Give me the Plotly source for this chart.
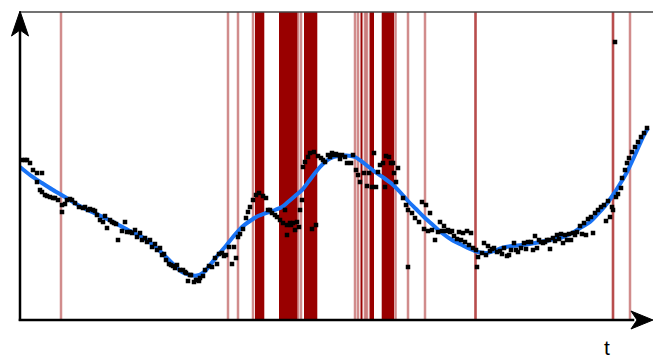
import plotly.graph_objects as go

# ---- data (t = time, v = signal value) ----
curve_t = [0, 10, 22, 33, 45, 58, 72, 85, 95, 108, 122, 132, 142, 152, 162, 170, 177, 184, 190, 198,
           205, 213, 222, 230, 238, 246, 255, 262, 268, 275, 282, 289, 295, 300, 305, 311, 318, 326, 335, 345,
           355, 364, 372, 380, 388, 396, 405, 414, 422, 432, 442, 450, 458, 466, 474, 482, 492, 502, 515, 530,
           543, 552, 560, 570, 577, 585, 593, 600, 607, 615, 623, 628]
curve_v = [153, 145, 137, 130, 123, 115, 108, 102, 97, 90, 83, 76, 67, 57, 48, 45, 44.5, 48, 55, 65,
           73, 83, 93, 99, 104, 107, 110, 113, 118, 124, 130, 139, 147, 153, 158, 162, 164, 164.5, 163, 156,
           148, 142, 136, 128, 119, 111, 102, 94, 87, 80, 75, 71, 68, 67, 69, 72, 74, 75, 77, 80,
           83, 87, 92, 98, 105, 114, 125, 136, 148, 165, 183, 192]

obs_t = [2, 5, 10, 13, 17, 22, 17, 20, 22, 25, 30, 33, 38, 42, 42, 47, 52, 55, 59, 63, 68, 73, 77, 80,
         83, 87, 92, 96, 98, 102, 107, 112, 117, 122, 127, 132, 137, 142, 146, 149, 153, 157, 160, 163, 166,
         168, 171, 174, 177, 180, 183, 185,
         189, 192, 195, 199, 202, 206, 209, 214, 218, 220, 223, 226, 228, 230, 233, 236, 239, 243, 246, 248,
         252, 257, 260, 263, 267, 267, 270, 273, 275, 277, 280, 282,
         283, 285, 288, 290, 294, 298, 301, 305, 310, 314, 318, 322, 327, 331, 336, 338, 340, 344, 347, 349,
         352, 356, 360, 363, 366, 369, 371, 374, 376, 378,
         383, 386, 388, 388, 392, 395, 399, 404, 408, 412, 415, 418, 422, 426, 430, 434, 437, 441, 445, 449,
         453, 456, 458, 457, 462, 466, 470, 474, 477,
         480, 484, 487, 491, 494, 498, 501, 504, 508, 511, 515, 519, 523, 527, 530, 533, 537, 541, 545, 549,
         553, 557, 560, 564, 568, 571, 575, 578, 581, 584, 588, 592, 593, 596, 598, 601, 602, 605, 607, 609,
         612, 615, 618, 621, 624, 627, 595,
         7, 27, 35, 45, 50, 65, 70, 75, 85, 90, 94, 105, 110, 115, 120, 125, 130, 135, 140, 144, 151, 155,
         165, 170, 176, 179, 197, 204, 212, 216, 250, 255, 265, 271, 279, 292, 296, 303, 308, 312, 316, 320,
         325, 333, 354, 358, 365, 373, 402, 406, 410, 420, 424, 428, 432, 439, 443, 447, 451, 464, 468, 472,
         482, 489, 496, 506, 513, 517, 521, 525, 529, 535, 539, 543, 547, 551, 555, 562, 566, 573, 586, 590]
obs_v = [160, 160, 157, 150, 147, 147, 138, 130, 128, 125, 123, 122, 120, 115, 108, 120, 120, 117, 113, 112, 110, 110, 105, 100,
         98, 92, 98, 96, 80, 89, 88, 87, 83, 80, 78, 73, 70, 65, 60, 56, 54, 55, 50, 50, 47,
         39, 45, 38, 40, 42, 44, 50,
         54, 53, 62, 66, 67, 65, 73, 73, 83, 86, 91, 102, 108, 113, 120, 125, 127, 124, 122, 110,
         107, 103, 100, 97, 95, 85, 97, 97, 90, 98, 110, 120,
         153, 158, 163, 167, 168, 164, 162, 158, 163, 165, 165, 165, 157, 157, 150, 145, 138, 147, 134, 147,
         133, 133, 155, 157, 164, 163, 157, 147, 138, 152,
         122, 115, 110, 53, 107, 102, 98, 91, 89, 90, 80, 88, 89, 89, 88, 84, 81, 80, 78, 75,
         72, 70, 63, 53, 67, 65, 69, 72, 68,
         69, 72, 64, 70, 77, 68, 72, 77, 78, 78, 84, 80, 77, 80, 71, 82, 85, 86, 85, 86,
         87, 88, 94, 97, 101, 103, 107, 110, 113, 115, 119, 113, 110, 123, 126, 132, 142, 150, 157, 162,
         168, 173, 178, 183, 187, 192, 278,
         160, 124, 122, 116, 121, 113, 111, 109, 104, 100, 97, 98, 88, 90, 87, 82, 80, 76, 72, 66, 55, 52,
         48, 45, 40, 39, 56, 64, 56, 62, 110, 105, 110, 95, 93, 91, 95, 160, 165, 167, 166, 161,
         163, 165, 167, 148, 133, 157, 118, 115, 107, 98, 94, 90, 89, 88, 87, 89, 87, 77, 74, 71,
         66, 65, 70, 71, 70, 72, 78, 78, 80, 79, 81, 77, 80, 80, 85, 86, 85, 87, 99, 103]

# detected change points: single detections and dense clusters (start, end)
change_single = [41, 208, 218, 233, 278, 281, 335, 338, 345, 347, 375.5, 388, 405, 455.5, 455.5, 593, 593, 610]
change_dense_start = [235, 259, 284, 340.5, 349.5, 361.7]
change_dense_end = [244.3, 277.3, 297.3, 342.5, 354, 374]

T_MAX = 630
V_MAX = 308

fig = go.Figure()

fig.add_trace(go.Scatter(x=curve_t, y=curve_v, mode="lines",
                         line=dict(color="rgb(25,115,245)", width=4, shape="spline", smoothing=0.8),
                         hoverinfo="skip", showlegend=False))
fig.add_trace(go.Scatter(x=obs_t, y=obs_v, mode="markers",
                         marker=dict(color="black", size=4.5, symbol="square", line=dict(width=0)),
                         showlegend=False))

shapes = []
for t in change_single:
    shapes.append(dict(type="line", xref="x", yref="paper", x0=t, x1=t, y0=0, y1=1,
                       line=dict(color="rgba(153,0,0,0.45)", width=2.5), layer="below"))
for a, b in zip(change_dense_start, change_dense_end):
    shapes.append(dict(type="rect", xref="x", yref="paper", x0=a, x1=b, y0=0, y1=1,
                       fillcolor="rgb(153,0,0)", line=dict(width=0), layer="below"))

# frame top line
shapes.append(dict(type="line", xref="paper", yref="paper", x0=0, x1=1.006, y0=1, y1=1,
                   line=dict(color="#444", width=1.5)))
# axes with arrows
shapes.append(dict(type="line", xref="paper", yref="paper", x0=0, x1=0, y0=-0.003, y1=0.95,
                   line=dict(color="black", width=2.5)))
shapes.append(dict(type="line", xref="paper", yref="paper", x0=-0.002, x1=0.975, y0=0, y1=0,
                   line=dict(color="black", width=2.5)))
shapes.append(dict(type="path", xref="paper", yref="paper",
                   path="M 0,1.0032 L -0.0135,0.9220 L 0,0.9416 L 0.0135,0.9220 Z",
                   fillcolor="black", line=dict(color="black", width=1)))
shapes.append(dict(type="path", xref="paper", yref="paper",
                   path="M 1.00476,0 L 0.9698,0.0292 L 0.9794,0 L 0.9698,-0.0292 Z",
                   fillcolor="black", line=dict(color="black", width=1)))

fig.update_layout(
    width=653, height=358,
    margin=dict(l=20, r=3, t=12, b=38),
    paper_bgcolor="white", plot_bgcolor="white",
    xaxis=dict(range=[0, T_MAX], visible=False, fixedrange=True),
    yaxis=dict(range=[0, V_MAX], visible=False, fixedrange=True),
    shapes=shapes,
    annotations=[dict(text="t", xref="paper", yref="paper", x=0.9317, y=-0.088,
                      showarrow=False, xanchor="center", yanchor="middle",
                      font=dict(family="Liberation Sans", size=21, color="black"))],
    showlegend=False,
)

fig.write_html("out.html", config={"displayModeBar": False},
               post_script="document.body.style.margin='0';document.body.style.overflow='hidden';")
